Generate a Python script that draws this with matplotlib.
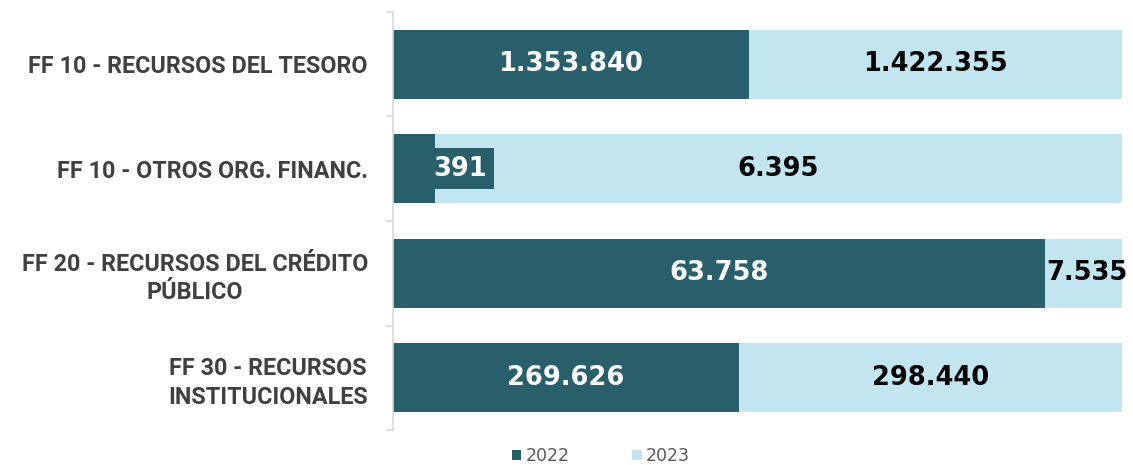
import matplotlib
matplotlib.use("Agg")
import matplotlib.pyplot as plt
import numpy as np

categories = ["FF 10 - RECURSOS DEL TESORO",
              "FF 10 - OTROS ORG. FINANC.",
              "FF 20 - RECURSOS DEL CRÉDITO\nPÚBLICO",
              "FF 30 - RECURSOS\nINSTITUCIONALES"]
v2022 = [1353840, 391, 63758, 269626]
v2023 = [1422355, 6395, 7535, 298440]
series_names = ["2022", "2023"]

c2022 = "#285f6b"
c2023 = "#c2e5ef"

def fmt(v):
    return f"{v:,}".replace(",", ".")

a = np.array(v2022, float)
b = np.array(v2023, float)
tot = a + b
p22 = a / tot
p23 = b / tot

fig = plt.figure(figsize=(11.33, 4.65), dpi=100)
ax = fig.add_axes([393/1133, 1 - 430/465, (1122-393)/1133, (430-12)/465])

y = np.arange(len(categories))
ax.barh(y, p22, height=0.665, color=c2022, label=series_names[0])
ax.barh(y, p23, left=p22, height=0.665, color=c2023, label=series_names[1])
ax.set_xlim(0, 1)
ax.set_ylim(len(categories) - 0.5, -0.5)

lblfont = dict(family="DejaVu Sans", weight="bold", fontsize=18.5)
for i in range(len(categories)):
    if p22[i] > 0.1:
        ax.text(p22[i] / 2, y[i], fmt(v2022[i]), ha="center", va="center",
                color="white", **lblfont)
    else:
        ax.text(p22[i] - 0.003, y[i], fmt(v2022[i]), ha="left", va="center",
                color="white", bbox=dict(boxstyle="square,pad=0.3", fc=c2022, ec="none"),
                **lblfont)
    if p23[i] > 0.15:
        ax.text(p22[i] + p23[i] / 2, y[i], fmt(v2023[i]), ha="center", va="center",
                color="black", **lblfont)
    else:
        ax.text(p22[i] + 0.002, y[i], fmt(v2023[i]), ha="left", va="center",
                color="black", **lblfont)

ax.set_yticks(np.arange(len(categories) + 1) - 0.5)
ax.set_yticklabels([])
ax.set_yticks(y, minor=True)
ax.set_yticklabels(categories, minor=True, family="Roboto",
                   weight="bold", fontsize=16.8, color="#404040",
                   multialignment="center", linespacing=1.3)
ax.tick_params(axis="y", which="minor", length=0, pad=18)
ax.tick_params(axis="y", which="major", length=5, color="#d9d9d9", width=1.2)
ax.set_xticks([])
for s in ["top", "right", "bottom"]:
    ax.spines[s].set_visible(False)
ax.spines["left"].set_color("#d9d9d9")
ax.spines["left"].set_linewidth(1.2)

leg = fig.legend(loc="center", bbox_to_anchor=(601/1133, 1 - 456/465), ncol=2,
                 frameon=False, handlelength=0.55, handleheight=0.55,
                 handletextpad=0.25, columnspacing=3.6,
                 prop=dict(family="DejaVu Sans", size=12.5))
for t in leg.get_texts():
    t.set_color("#595959")

fig.savefig("out.png", dpi=100)
